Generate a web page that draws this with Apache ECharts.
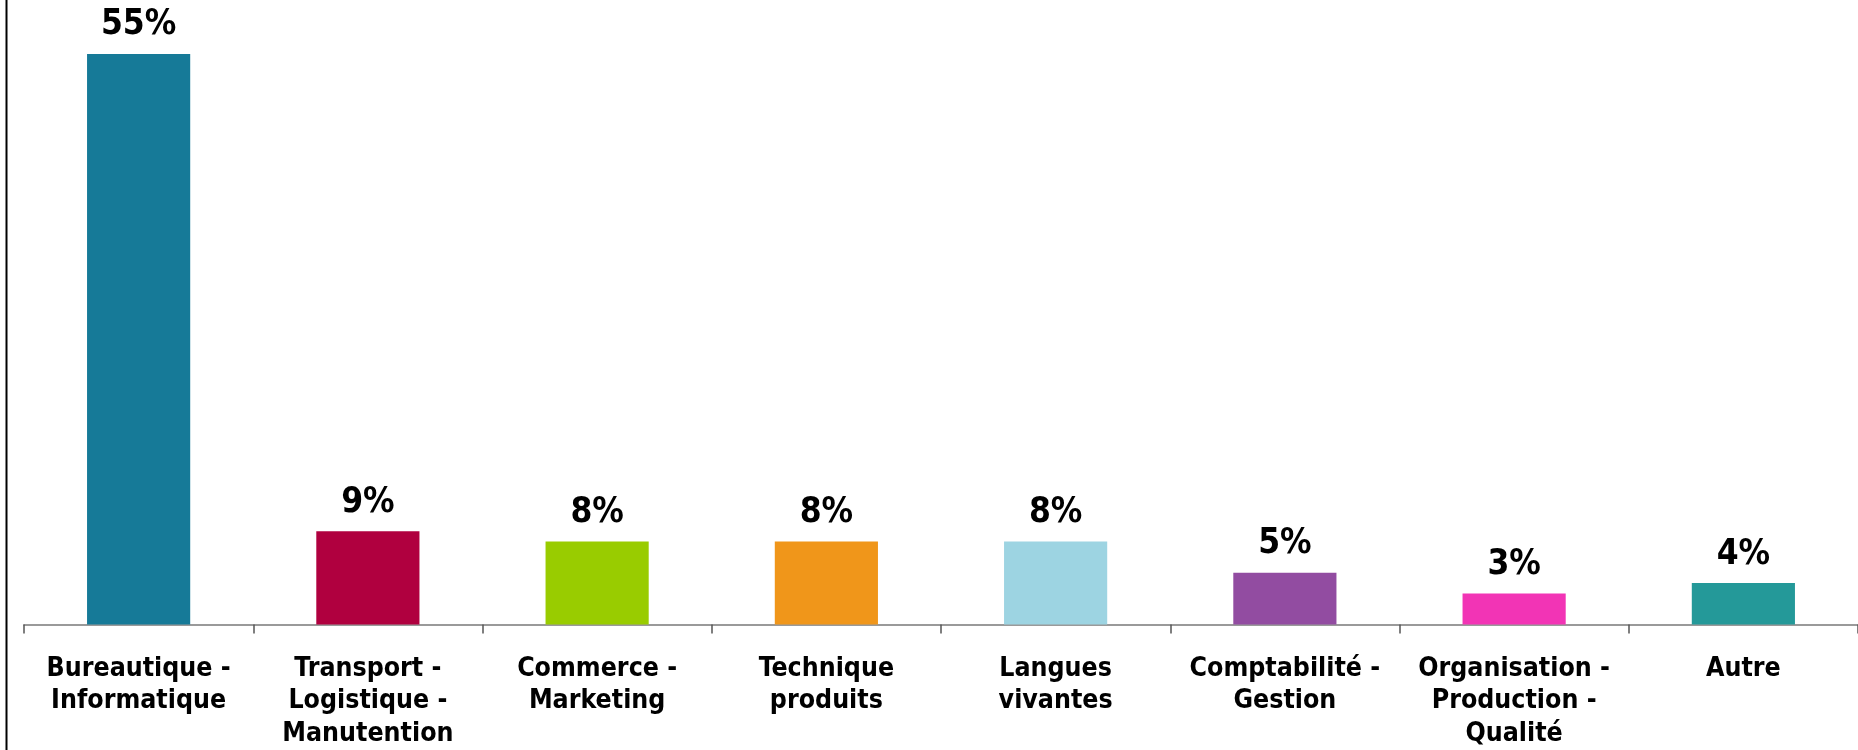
<!DOCTYPE html>
<html>
<head>
<meta charset="utf-8">
<script src="https://cdn.jsdelivr.net/npm/echarts@6/dist/echarts.min.js"></script>
<style>
html,body{margin:0;padding:0;background:#fff;}
#chart{width:1858px;height:750px;}
</style>
</head>
<body>
<div id="chart"></div>
<script>
const categories = [
  "Bureautique -\nInformatique",
  "Transport -\nLogistique -\nManutention",
  "Commerce -\nMarketing",
  "Technique\nproduits",
  "Langues\nvivantes",
  "Comptabilité -\nGestion",
  "Organisation -\nProduction -\nQualité",
  "Autre"
];
const values = [55, 9, 8, 8, 8, 5, 3, 4];
const colors = ["#167A98", "#B0003F", "#99CC00", "#F0961A", "#9DD4E2", "#924CA1", "#F234B5", "#249999"];

const chart = echarts.init(document.getElementById('chart'));
chart.setOption({
  animation: false,
  backgroundColor: '#ffffff',
  grid: { left: 24, right: 0, top: 2, bottom: 123, containLabel: false },
  xAxis: {
    type: 'category',
    data: categories,
    axisLine: { show: true, lineStyle: { color: '#7a7a7a', width: 1.5 } },
    axisTick: { show: true, alignWithLabel: false, length: 9, lineStyle: { color: '#555555', width: 1.5 } },
    axisLabel: {
      interval: 0,
      margin: 28,
      fontFamily: '"DejaVu Sans Condensed", "DejaVu Sans", sans-serif',
      fontWeight: 'bold',
      fontSize: 26.5,
      lineHeight: 32.5,
      color: '#000'
    }
  },
  yAxis: {
    type: 'value',
    min: 0,
    max: 60,
    show: false,
    splitLine: { show: false }
  },
  graphic: [{
    type: 'line',
    shape: { x1: 6.5, y1: 0, x2: 6.5, y2: 750 },
    style: { stroke: '#000', lineWidth: 2 }
  }],
  series: [{
    type: 'bar',
    data: values.map((v, i) => ({ value: v, itemStyle: { color: colors[i] } })),
    barWidth: '45%',
    label: {
      show: true,
      position: 'top',
      distance: 11,
      formatter: '{c}%',
      fontFamily: '"DejaVu Sans Condensed", "DejaVu Sans", sans-serif',
      fontWeight: 'bold',
      fontSize: 35,
      color: '#000'
    }
  }]
});
</script>
</body>
</html>
